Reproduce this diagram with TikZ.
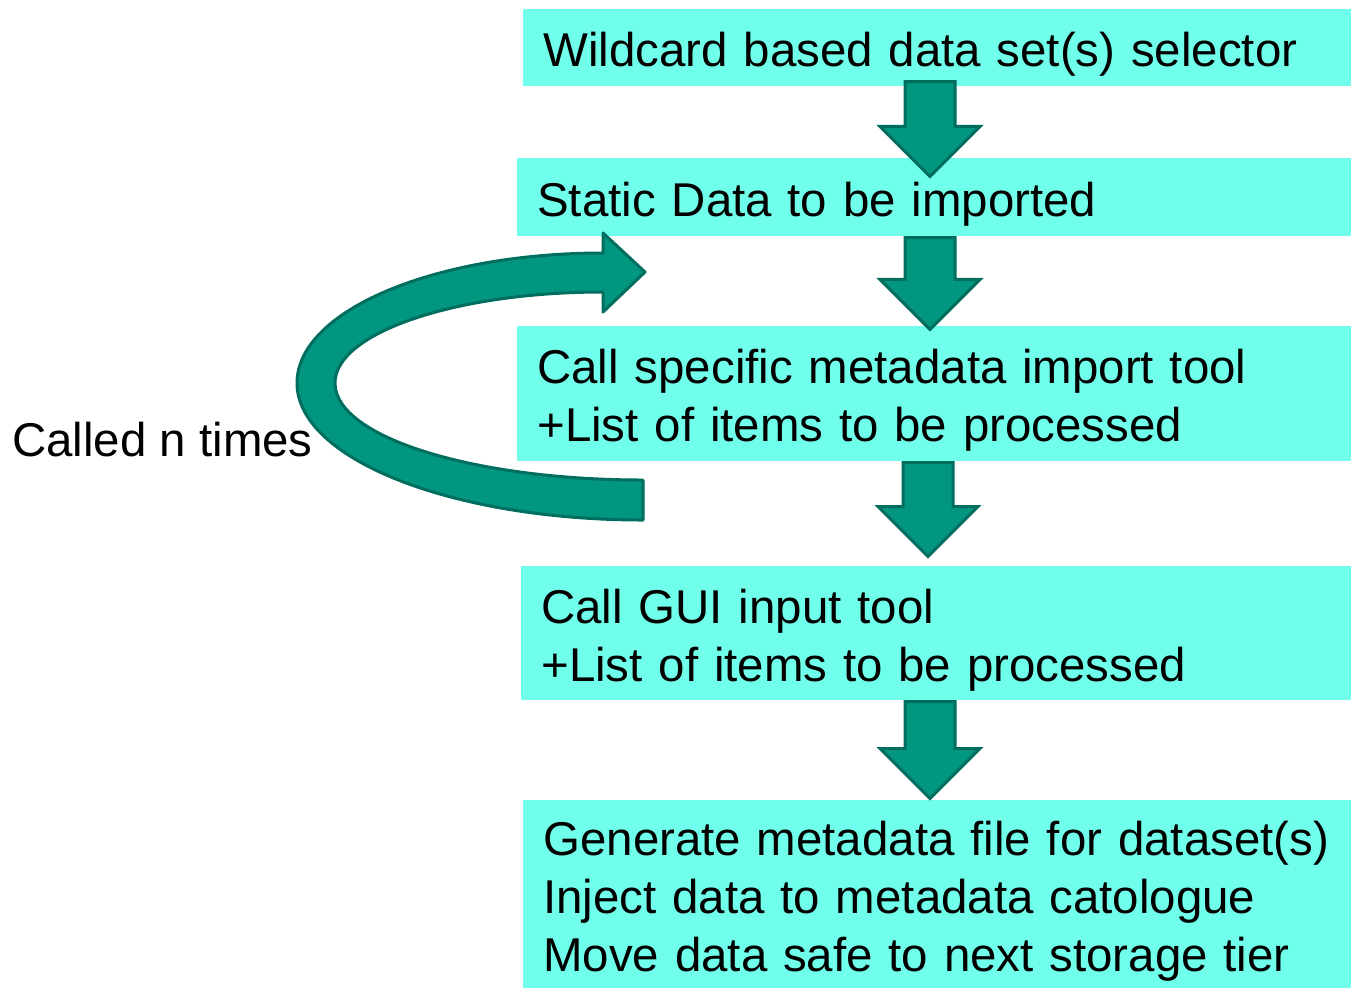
\documentclass[tikz,border=0pt]{standalone}
\usepackage{fontspec}
\setmainfont{Liberation Sans}
\usetikzlibrary{shapes.arrows}

\definecolor{boxcyan}{RGB}{112,255,234}
\definecolor{arrowteal}{RGB}{0,150,128}
\definecolor{arrowedge}{RGB}{0,110,95}

\tikzset{
  stepbox/.style={fill=boxcyan, anchor=north west, align=left,
    inner xsep=0.4cm, inner ysep=0pt, font=\fontsize{27}{33}\selectfont,
    execute at begin node={\rule{0pt}{27pt}}},
  downarrow/.style={single arrow, shape border rotate=270, anchor=tail,
    fill=arrowteal, draw=arrowedge, line width=0.06cm, inner sep=0.47cm,
    minimum width=1.94cm, minimum height=1.9cm,
    single arrow head extend=0.5cm, single arrow head indent=0pt}
}

\begin{document}
\begin{tikzpicture}[x=0.02cm, y=-0.02cm]
  \useasboundingbox (0,0) rectangle (1351,988);
  % boxes
  \node[stepbox, text width=15.76cm, minimum height=1.54cm] (sel) at (523,9)
    {Wildcard based data set(s) selector};
  \node[stepbox, text width=15.88cm, minimum height=1.56cm] (static) at (517,158)
    {Static Data to be imported};
  \node[stepbox, text width=15.88cm, minimum height=2.70cm] (meta) at (517,326)
    {Call specific metadata import tool\\+List of items to be processed};
  \node[stepbox, text width=15.80cm, minimum height=2.68cm] (gui) at (521,566)
    {Call GUI input tool\\+List of items to be processed};
  \node[stepbox, text width=15.76cm, minimum height=3.76cm] (gen) at (523,800)
    {Generate metadata file for dataset(s)\\Inject data to metadata catologue\\Move data safe to next storage tier};
  % arrows between the steps
  \node[downarrow] (a1) at (930,80) {};
  \node[downarrow, minimum height=1.84cm] (a2) at (930,236) {};
  \node[downarrow, minimum height=1.88cm] (a3) at (928,461) {};
  \node[downarrow, minimum height=1.94cm] (a4) at (930,700) {};
  % loop back
  \node[anchor=west, font=\fontsize{27}{33}\selectfont] (times) at (6,440) {Called n times};
  \draw[fill=arrowteal, draw=arrowedge, line width=0.06cm, line join=round]
    (643,480) .. controls (473,480) and (335,437) .. (335,383)
    .. controls (335,333) and (455,292) .. (603,292)
    -- (603,312) -- (645,272) -- (603,233) -- (603,253)
    .. controls (434,253) and (297,311) .. (297,383)
    .. controls (297,459) and (452,520) .. (643,520) -- cycle;
\end{tikzpicture}
\end{document}
